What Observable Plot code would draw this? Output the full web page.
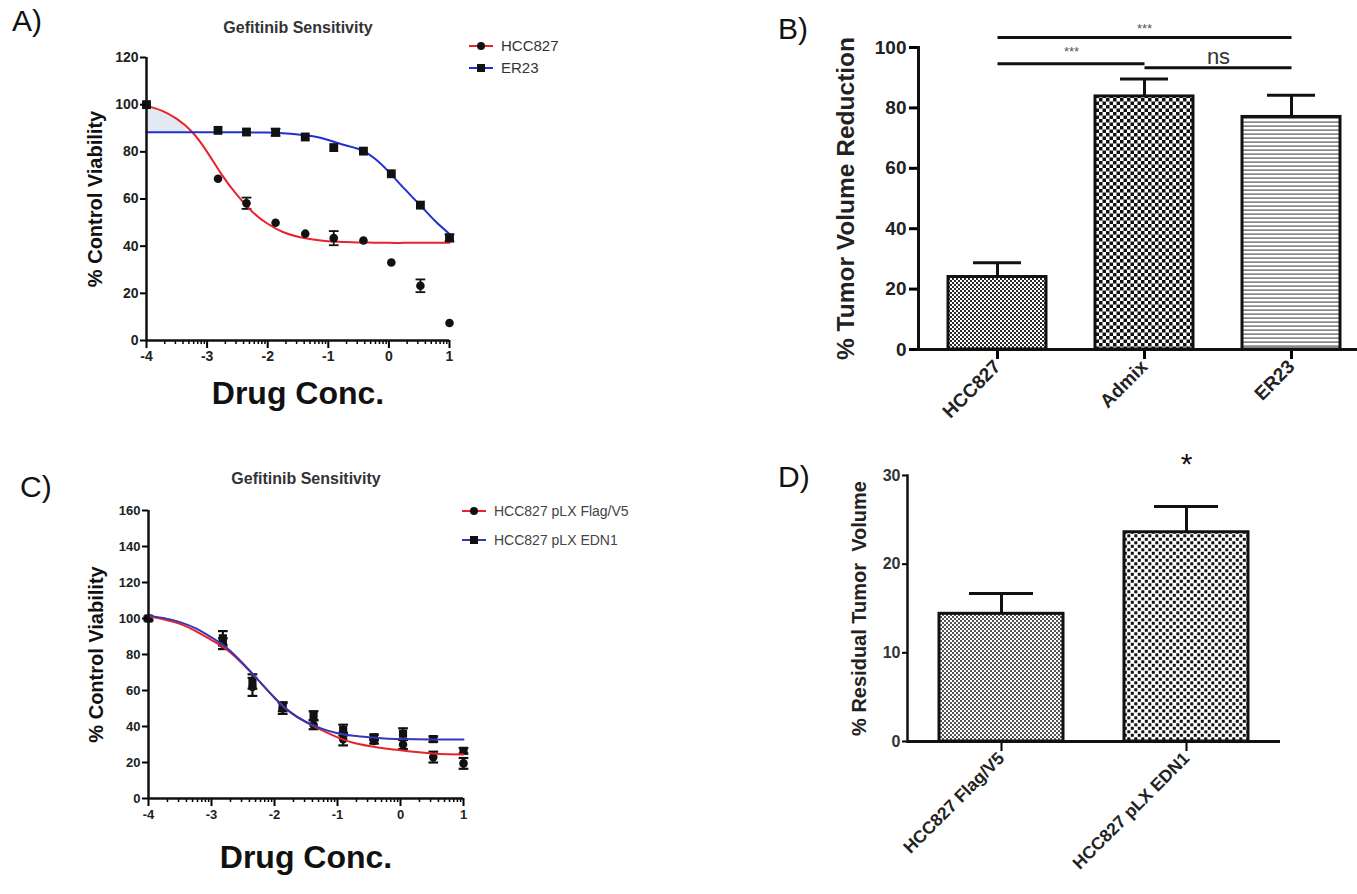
<!DOCTYPE html>
<html><head><meta charset="utf-8">
<script src="https://cdn.jsdelivr.net/npm/d3@7"></script>
<script src="https://cdn.jsdelivr.net/npm/@observablehq/plot@0.6"></script>
<style>
body{margin:0;background:#fff;}
#root{position:relative;width:1357px;height:894px;overflow:hidden;font-family:"Liberation Sans",Arial,sans-serif;background:#fff;}
.letter{position:absolute;font-size:30px;color:#111;line-height:1;}
.leg{position:absolute;display:flex;align-items:center;white-space:nowrap;line-height:1;}
.leg svg{margin-right:8px;}
</style></head><body><div id="root"></div>
<script>
// ---------- DATA ----------
const xConc = [-4, -2.82, -2.35, -1.87, -1.38, -0.91, -0.42, 0.04, 0.52, 1.0];
const xTickValues = [-4, -3, -2, -1, 0, 1];
const xTickLabels = ["-4", "-3", "-2", "-1", "0", "1"];
const curveX = [-4, -3.75, -3.5, -3.25, -3, -2.75, -2.5, -2.25, -2, -1.75, -1.5, -1.25, -1, -0.75, -0.5, -0.25, 0, 0.25, 0.5, 0.75, 1];

// Panel A
const aSeries = ["HCC827", "ER23"];
const aHccY   = [100, 68.6, 58.2, 49.9, 45.3, 43.4, 42.4, 33.1, 23.2, 7.4];
const aHccErr = [0, 0.6, 2.4, 0.5, 0.5, 3.0, 0.5, 0.5, 2.7, 0.5];
const aErY    = [100, 89.1, 88.4, 88.3, 86.3, 81.8, 80.3, 70.7, 57.4, 43.5];
const aErErr  = [0, 0.5, 0.5, 1.5, 0.5, 0.5, 0.5, 0.5, 0.5, 1.5];
const aHccFit = [99.5, 97.5, 94, 88.5, 80, 70, 61.5, 54.5, 49.5, 46, 44, 42.8, 42.1, 41.8, 41.6, 41.5, 41.4, 41.4, 41.4, 41.4, 41.4];
const aErFit  = [88.3, 88.3, 88.3, 88.3, 88.3, 88.3, 88.3, 88.2, 88.2, 87.9, 87.4, 86.6, 85, 83, 81.2, 77.5, 71.5, 64.5, 57.8, 51, 45.2];
const aShadeX  = [-4, -3.75, -3.5, -3.32];
const aShadeHi = [99.5, 97.5, 94, 88.3];
const aShadeLo = [88.3, 88.3, 88.3, 88.3];
const aYTicks = [0, 20, 40, 60, 80, 100, 120];

// Panel B
const bNames = ["HCC827", "Admix", "ER23"];
const bVals  = [24, 83.8, 77];
const bErr   = [4.7, 5.8, 7.2];
const bYTicks = [0, 20, 40, 60, 80, 100];
const bSigFrom  = ["HCC827", "HCC827", "Admix"];
const bSigTo    = ["ER23", "Admix", "ER23"];
const bSigY     = [103.3, 94.6, 93.3];
const bSigText  = ["***", "***", "ns"];
const bSigTextY = [106.3, 98.6, 96.8];

// Panel C
const cSeries = ["HCC827 pLX Flag/V5", "HCC827 pLX EDN1"];
const cFlagY   = [100, 86, 62, 50, 41, 33, 32, 30, 23, 19.5];
const cFlagErr = [1, 3, 5, 3, 2.5, 3.5, 1.5, 2.5, 3, 3];
const cEdnY    = [100, 89, 65, 51, 46, 38, 34, 36, 33, 26.5];
const cEdnErr  = [1, 4, 4, 2.5, 2.5, 3, 1.5, 3, 1.5, 1.5];
const cFlagFit = [101.2, 99.5, 97, 93, 88, 82.5, 74.5, 65.5, 56, 48, 42.5, 38, 34, 31, 29.2, 27.8, 26.8, 25.8, 25, 24.6, 24.4];
const cEdnFit  = [101.6, 100.2, 98, 94.5, 89.5, 83.5, 75, 65.5, 56, 48, 42.5, 38.8, 36.2, 34.8, 34, 33.4, 33.1, 32.9, 32.8, 32.8, 32.8];
const cYTicks = [0, 20, 40, 60, 80, 100, 120, 140, 160];

// Panel D
const dNames = ["HCC827 Flag/V5", "HCC827 pLX EDN1"];
const dVals  = [14.4, 23.6];
const dErr   = [2.3, 2.9];
const dYTicks = [0, 10, 20, 30];
const dStarY = 31.2;

// ---------- HELPERS ----------
const root = document.getElementById("root");
const FONT = "'Liberation Sans', Arial, Helvetica, sans-serif";
root.insertAdjacentHTML("beforeend", `
<svg width="0" height="0" style="position:absolute;left:0;top:0">
 <defs>
  <pattern id="chkFine" width="4" height="4" patternUnits="userSpaceOnUse">
   <rect width="4" height="4" fill="#fff"/><rect width="2" height="2" fill="#2a2a2a"/><rect x="2" y="2" width="2" height="2" fill="#2a2a2a"/>
  </pattern>
  <pattern id="chkFineLight" width="4" height="4" patternUnits="userSpaceOnUse">
   <rect width="4" height="4" fill="#fff"/><rect width="2" height="2" fill="#555"/><rect x="2" y="2" width="2" height="2" fill="#555"/>
  </pattern>
  <pattern id="chkBig" width="7" height="7" patternUnits="userSpaceOnUse">
   <rect width="7" height="7" fill="#fff"/><rect width="3.5" height="3.5" fill="#111"/><rect x="3.5" y="3.5" width="3.5" height="3.5" fill="#111"/>
  </pattern>
  <pattern id="chkMid" width="7" height="7" patternUnits="userSpaceOnUse">
   <rect width="7" height="7" fill="#fff"/><rect x="0.3" y="0.3" width="3" height="3" fill="#111"/><rect x="3.8" y="3.8" width="3" height="3" fill="#111"/>
  </pattern>
  <pattern id="hLines" width="4" height="4" patternUnits="userSpaceOnUse">
   <rect width="4" height="4" fill="#fff"/><rect y="1.5" width="4" height="1.2" fill="#555"/>
  </pattern>
 </defs>
</svg>`);

function place(node, left, top) {
  node.style.position = "absolute";
  node.style.left = left + "px";
  node.style.top = top + "px";
  root.appendChild(node);
}
function letter(t, left, top) {
  const d = document.createElement("div");
  d.className = "letter"; d.textContent = t;
  d.style.left = left + "px"; d.style.top = top + "px";
  root.appendChild(d);
}
function legendItem(label, color, symbol, left, top, fontSize, textColor) {
  const d = document.createElement("div");
  d.className = "leg";
  d.style.left = left + "px"; d.style.top = top + "px";
  d.style.fontSize = fontSize + "px"; d.style.color = textColor;
  const marker = symbol === "circle"
    ? `<circle cx="12" cy="6" r="4" fill="#111"/>`
    : `<rect x="8" y="2" width="8" height="8" fill="#111"/>`;
  d.innerHTML = `<svg width="24" height="12"><line x1="0" y1="6" x2="24" y2="6" stroke="${color}" stroke-width="2"/>${marker}</svg><span>${label}</span>`;
  root.appendChild(d);
}
const capSymbol = {draw(ctx, size) { const w = Math.sqrt(size) / 2; ctx.moveTo(-w, 0); ctx.lineTo(w, 0); }};
const zip = (xs, ys, es) => xs.map((x, i) => ({x, y: ys[i], e: es ? es[i] : 0}));
const minorTicks = [];
for (let d = -4; d < 1; d++) for (let k = 2; k <= 9; k++) minorTicks.push(d + Math.log10(k));

function errMarks(data, sw) {
  const withErr = data.filter(d => d.e > 0.8);
  return [
    Plot.ruleX(withErr, {x: "x", y1: d => d.y - d.e, y2: d => d.y + d.e, stroke: "#111", strokeWidth: sw}),
    Plot.dot(withErr, {x: "x", y: d => d.y + d.e, symbol: capSymbol, r: 5.5, stroke: "#111", strokeWidth: sw, fill: "none"}),
    Plot.dot(withErr, {x: "x", y: d => d.y - d.e, symbol: capSymbol, r: 5.5, stroke: "#111", strokeWidth: sw, fill: "none"})
  ];
}
function doseAxes(yTicks, fs) {
  return [
    Plot.axisY({ticks: yTicks, tickSize: 6, tickPadding: 2, fontSize: fs, fontWeight: "bold", strokeWidth: 2, label: null, fill: "#222"}),
    Plot.axisX({ticks: minorTicks, tickSize: 4, tickFormat: () => "", strokeWidth: 1.5, label: null}),
    Plot.axisX({ticks: xTickValues, tickSize: 8, tickPadding: 3, fontSize: fs, fontWeight: "bold", strokeWidth: 2, label: null, fill: "#222",
      tickFormat: d => xTickLabels[xTickValues.indexOf(d)]}),
    Plot.ruleX([-4], {y1: 0, y2: yTicks[yTicks.length - 1], strokeWidth: 2.5, stroke: "#111"}),
    Plot.ruleY([0], {x1: -4, x2: 1, strokeWidth: 2.5, stroke: "#111"})
  ];
}
function yLabel(t, dx, fs, fill) {
  return Plot.text([t], {frameAnchor: "left", dx, rotate: -90, textAnchor: "middle", lineAnchor: "middle", fontSize: fs, fontWeight: "bold", fill});
}
function topText(t, dy, fs, fill) {
  return Plot.text([t], {frameAnchor: "top", dy, lineAnchor: "middle", fontSize: fs, fontWeight: "bold", fill});
}
function bottomText(t, dy, fs, fill) {
  return Plot.text([t], {frameAnchor: "bottom", dy, lineAnchor: "middle", fontSize: fs, fontWeight: "bold", fill});
}

// ---------- PANEL A ----------
const aHcc = zip(xConc, aHccY, aHccErr);
const aEr = zip(xConc, aErY, aErErr);
const aShade = aShadeX.map((x, i) => ({x, hi: aShadeHi[i], lo: aShadeLo[i]}));
const plotA = Plot.plot({
  width: 580, height: 420, marginLeft: 146, marginRight: 131, marginTop: 57, marginBottom: 80,
  style: {fontFamily: FONT, background: "transparent", overflow: "visible", fontWeight: "bold"},
  x: {domain: [-4, 1]}, y: {domain: [0, 120]},
  marks: [
    Plot.areaY(aShade, {x: "x", y1: "lo", y2: "hi", fill: "#e3e9f2", curve: "natural"}),
    ...errMarks(aHcc, 1.8), ...errMarks(aEr, 1.8),
    Plot.line(zip(curveX, aHccFit), {x: "x", y: "y", stroke: "#e8232a", strokeWidth: 2, curve: "natural"}),
    Plot.line(zip(curveX, aErFit), {x: "x", y: "y", stroke: "#1f2fd6", strokeWidth: 2, curve: "natural"}),
    Plot.dot(aHcc, {x: "x", y: "y", r: 4.3, fill: "#111", symbol: "circle"}),
    Plot.dot(aEr, {x: "x", y: "y", r: 5, fill: "#111", symbol: "square"}),
    ...doseAxes(aYTicks, 14),
    topText("Gefitinib Sensitivity", -30, 16, "#333"),
    bottomText("Drug Conc.", 53, 32, "#111"),
    yLabel("% Control Viability", -51, 20, "#111")
  ]
});
place(plotA, 0, 0);
legendItem(aSeries[0], "#e8232a", "circle", 469, 38, 15, "#333");
legendItem(aSeries[1], "#1f2fd6", "square", 469, 60, 15, "#333");

// ---------- PANEL B ----------
const bData = bNames.map((n, i) => ({n, v: bVals[i], e: bErr[i]}));
const bFills = ["url(#chkFine)", "url(#chkBig)", "url(#hLines)"];
const bSig = bSigFrom.map((a, i) => ({a, b: bSigTo[i], y: bSigY[i]}));
const plotB = Plot.plot({
  width: 587, height: 420, marginLeft: 148, marginRight: 0, marginTop: 47, marginBottom: 71,
  style: {fontFamily: FONT, background: "transparent", overflow: "visible", fontWeight: "bold"},
  x: {domain: bNames, paddingInner: 0.331, paddingOuter: 0.149, align: 0.636},
  y: {domain: [0, 100]},
  marks: [
    ...bData.map((d, i) => Plot.barY([d], {x: "n", y: "v", fill: bFills[i], stroke: "#111", strokeWidth: 3})),
    Plot.ruleX(bData, {x: "n", y1: "v", y2: d => d.v + d.e, stroke: "#111", strokeWidth: 3}),
    Plot.tickY(bData, {x: "n", y: d => d.v + d.e, stroke: "#111", strokeWidth: 3, insetLeft: 25, insetRight: 25}),
    Plot.link(bSig, {x1: "a", x2: "b", y1: "y", y2: "y", stroke: "#111", strokeWidth: 3}),
    Plot.text([bSigText[0]], {x: () => bNames[1], y: () => bSigTextY[0], fontSize: 13, fontWeight: "normal", fill: "#555"}),
    Plot.text([bSigText[1]], {x: () => bNames[0], y: () => bSigTextY[1], dx: 74, fontSize: 13, fontWeight: "normal", fill: "#555"}),
    Plot.text([bSigText[2]], {x: () => bNames[1], y: () => bSigTextY[2], dx: 74, fontSize: 22, fontWeight: "normal", fill: "#333"}),
    Plot.axisY({ticks: bYTicks, tickSize: 9, tickPadding: 3, fontSize: 19, fontWeight: "bold", strokeWidth: 3, label: null, fill: "#222"}),
    Plot.axisX({tickSize: 10, tickPadding: 4, tickRotate: -45, fontSize: 19, fontWeight: "bold", strokeWidth: 3, label: null, fill: "#222"}),
    Plot.ruleY([0], {stroke: "#111", strokeWidth: 3}),
    Plot.frame({anchor: "left", stroke: "#111", strokeWidth: 3}),
    yLabel("% Tumor Volume Reduction", -72, 24.5, "#222")
  ]
});
place(plotB, 770, 0);

// ---------- PANEL C ----------
const cFlag = zip(xConc, cFlagY, cFlagErr);
const cEdn = zip(xConc, cEdnY, cEdnErr);
const plotC = Plot.plot({
  width: 680, height: 444, marginLeft: 148, marginRight: 217, marginTop: 60, marginBottom: 96,
  style: {fontFamily: FONT, background: "transparent", overflow: "visible", fontWeight: "bold"},
  x: {domain: [-4, 1]}, y: {domain: [0, 160]},
  marks: [
    ...errMarks(cFlag, 2.2), ...errMarks(cEdn, 2.2),
    Plot.dot(cFlag, {x: "x", y: "y", r: 4.3, fill: "#111", symbol: "circle"}),
    Plot.dot(cEdn, {x: "x", y: "y", r: 4.6, fill: "#111", symbol: "square"}),
    Plot.line(zip(curveX, cFlagFit), {x: "x", y: "y", stroke: "#e8232a", strokeWidth: 2, curve: "natural"}),
    Plot.line(zip(curveX, cEdnFit), {x: "x", y: "y", stroke: "#3636b8", strokeWidth: 2, curve: "natural"}),
    ...doseAxes(cYTicks, 13),
    topText("Gefitinib Sensitivity", -32, 16, "#333"),
    bottomText("Drug Conc.", 59, 32, "#111"),
    yLabel("% Control Viability", -52, 20, "#111")
  ]
});
place(plotC, 0, 450);
legendItem(cSeries[0], "#e8232a", "circle", 462, 504, 14, "#444");
legendItem(cSeries[1], "#3636b8", "square", 462, 533, 14, "#444");

// ---------- PANEL D ----------
const dData = dNames.map((n, i) => ({n, v: dVals[i], e: dErr[i]}));
const dFills = ["url(#chkFineLight)", "url(#chkMid)"];
const plotD = Plot.plot({
  width: 587, height: 444, marginLeft: 137, marginRight: 77, marginTop: 25, marginBottom: 153,
  style: {fontFamily: FONT, background: "transparent", overflow: "visible", fontWeight: "bold"},
  x: {domain: dNames, paddingInner: 0.328, paddingOuter: 0.167, align: 0.5},
  y: {domain: [0, 30]},
  marks: [
    ...dData.map((d, i) => Plot.barY([d], {x: "n", y: "v", fill: dFills[i], stroke: "#111", strokeWidth: 3})),
    Plot.ruleX(dData, {x: "n", y1: "v", y2: d => d.v + d.e, stroke: "#111", strokeWidth: 3}),
    Plot.tickY(dData, {x: "n", y: d => d.v + d.e, stroke: "#111", strokeWidth: 3, insetLeft: 30, insetRight: 30}),
    Plot.text([dNames[1]], {x: d => d, y: () => dStarY, text: () => "*", fontSize: 30, fontWeight: "normal", fill: "#111", lineAnchor: "middle"}),
    Plot.axisY({ticks: dYTicks, tickSize: 5, tickPadding: 2, fontSize: 16, fontWeight: "bold", strokeWidth: 2, label: null, fill: "#333"}),
    Plot.axisX({tickSize: 10, tickPadding: 4, tickRotate: -45, fontSize: 17.5, fontWeight: "bold", strokeWidth: 2, label: null, fill: "#222"}),
    Plot.ruleY([0], {stroke: "#111", strokeWidth: 3}),
    Plot.frame({anchor: "left", stroke: "#111", strokeWidth: 2.5}),
    yLabel("% Residual Tumor\u00a0 Volume", -48, 20, "#222")
  ]
});
place(plotD, 770, 450);

// ---------- PANEL LETTERS ----------
letter("A)", 12, 6);
letter("B)", 778, 14);
letter("C)", 20, 472);
letter("D)", 778, 462);
</script></body></html>
